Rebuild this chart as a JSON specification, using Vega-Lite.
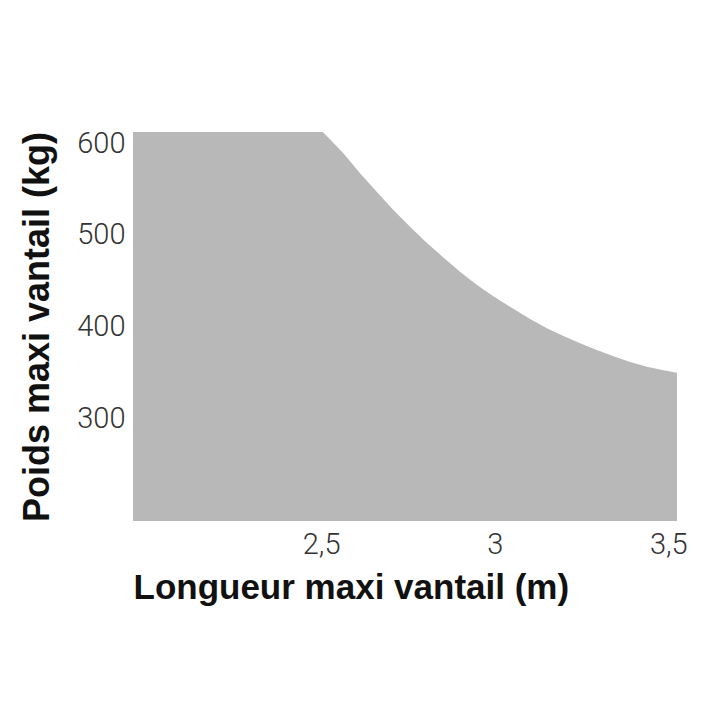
{
  "$schema": "https://vega.github.io/schema/vega-lite/v6.json",
  "autosize": "none",
  "width": 544,
  "height": 389,
  "padding": {"left": 133, "top": 132, "right": 43, "bottom": 199},
  "background": "white",
  "config": {"view": {"stroke": null}},
  "data": {
    "values": [
      {"longueur": 1.958, "poids": 612},
      {"longueur": 2.505, "poids": 612},
      {"longueur": 2.564, "poids": 588.8},
      {"longueur": 2.612, "poids": 567.1},
      {"longueur": 2.66, "poids": 547.1},
      {"longueur": 2.708, "poids": 527.2},
      {"longueur": 2.756, "poids": 509},
      {"longueur": 2.804, "poids": 491.5},
      {"longueur": 2.852, "poids": 475.6},
      {"longueur": 2.9, "poids": 460.1},
      {"longueur": 2.948, "poids": 446},
      {"longueur": 2.996, "poids": 433.5},
      {"longueur": 3.05, "poids": 420.5},
      {"longueur": 3.102, "poids": 408.6},
      {"longueur": 3.15, "poids": 398.6},
      {"longueur": 3.198, "poids": 390.2},
      {"longueur": 3.246, "poids": 382.3},
      {"longueur": 3.294, "poids": 375},
      {"longueur": 3.342, "poids": 368.2},
      {"longueur": 3.39, "poids": 362},
      {"longueur": 3.438, "poids": 356.8},
      {"longueur": 3.486, "poids": 352.8},
      {"longueur": 3.525, "poids": 350.3}
    ]
  },
  "mark": {"type": "area", "color": "#b8b8b8", "interpolate": "linear"},
  "encoding": {
    "x": {
      "field": "longueur",
      "type": "quantitative",
      "scale": {"domain": [1.958, 3.525], "nice": false, "zero": false},
      "axis": {
        "values": [2.5, 3, 3.5],
        "labelExpr": "replace(format(datum.value, '~g'), '.', ',')",
        "domain": false,
        "ticks": false,
        "grid": false,
        "labelFont": "Roboto",
        "labelFontWeight": 300,
        "labelFontSize": 29,
        "labelColor": "#333333",
        "labelPadding": 9,
        "labelFlush": false,
        "title": "Longueur maxi vantail (m)",
        "titleFont": "Liberation Sans",
        "titleFontWeight": "bold",
        "titleFontSize": 35,
        "titleColor": "#111111",
        "titleAnchor": "start",
        "titlePadding": 11
      }
    },
    "y": {
      "field": "poids",
      "type": "quantitative",
      "scale": {"domain": [189, 612], "nice": false, "zero": false},
      "axis": {
        "values": [300, 400, 500, 600],
        "domain": false,
        "ticks": false,
        "grid": false,
        "labelFont": "Roboto",
        "labelFontWeight": 300,
        "labelFontSize": 29,
        "labelColor": "#333333",
        "labelPadding": 8,
        "labelFlush": false,
        "title": "Poids maxi vantail (kg)",
        "titleFont": "Liberation Sans",
        "titleFontWeight": "bold",
        "titleFontSize": 36,
        "titleColor": "#111111",
        "titlePadding": 20
      }
    },
    "y2": {"datum": 189}
  }
}
